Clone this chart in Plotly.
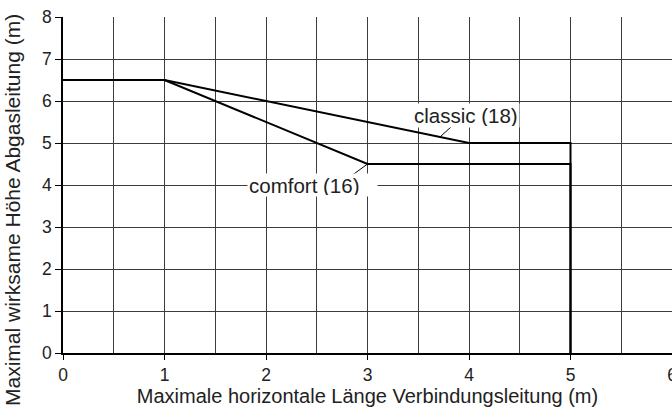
import plotly.graph_objects as go

# Maximum effective flue height vs. horizontal connection length
classic_x = [0, 1, 4, 5, 5]
classic_y = [6.5, 6.5, 5, 5, 0]
comfort_x = [0, 1, 3, 5, 5]
comfort_y = [6.5, 6.5, 4.5, 4.5, 0]

x_ticks = [0, 1, 2, 3, 4, 5, 6]
y_ticks = [0, 1, 2, 3, 4, 5, 6, 7, 8]

FONT = "Liberation Sans, Arial, sans-serif"
GRID = "#3c3c3c"
TEXT = "#222"

fig = go.Figure()
for xs, ys in [(comfort_x, comfort_y), (classic_x, classic_y)]:
    fig.add_trace(go.Scatter(x=xs, y=ys, mode="lines",
                             line=dict(color="black", width=2),
                             showlegend=False, hoverinfo="skip"))

# leader lines: anchored on a curve point, with a short pixel-sized stroke
lead_cls_x = 3.714
lead_cls_y = classic_y[1] + (classic_y[2] - classic_y[1]) * (lead_cls_x - 1) / 3
leaders = [
    dict(type="line", xref="x", yref="y", xsizemode="pixel", ysizemode="pixel",
         xanchor=lead_cls_x, yanchor=lead_cls_y, x0=0, y0=0, x1=11, y1=10,
         line=dict(color="black", width=1)),
    dict(type="line", xref="x", yref="y", xsizemode="pixel", ysizemode="pixel",
         xanchor=comfort_x[2], yanchor=comfort_y[2], x0=0, y0=0, x1=-15, y1=-11,
         line=dict(color="black", width=1)),
]

annotations = [
    dict(x=3.970, y=5.655, xref="x", yref="y", text="classic (18)",
         showarrow=False, bgcolor="white", borderpad=1, height=21,
         font=dict(family=FONT, size=20.5, color=TEXT)),
    dict(x=2.458, y=4.0, xref="x", yref="y", text="comfort (16)",
         showarrow=False, bgcolor="white", borderpad=1, width=127, height=20,
         align="left", font=dict(family=FONT, size=20.5, color=TEXT)),
    dict(x=(12 - 63) / 609, y=(353 - 210) / 336, xref="paper", yref="paper",
         text="Maximal wirksame Höhe Abgasleitung (m)", textangle=-90,
         showarrow=False, xanchor="center", yanchor="middle",
         font=dict(family=FONT, size=21, color=TEXT)),
]

fig.update_layout(
    width=672, height=412,
    margin=dict(l=63, r=0, t=17, b=59, autoexpand=False),
    paper_bgcolor="white", plot_bgcolor="white",
    font=dict(family=FONT, color=TEXT),
    annotations=annotations,
    shapes=leaders,
    xaxis=dict(
        range=[0, 6], tickvals=x_ticks, ticktext=[str(v) for v in x_ticks],
        showgrid=True, gridcolor=GRID, gridwidth=1,
        minor=dict(dtick=0.5, showgrid=True, gridcolor=GRID, gridwidth=1),
        ticks="outside", ticklen=5, tickcolor="black", tickwidth=1,
        showline=True, linecolor="black", linewidth=1.5,
        zeroline=False, tickfont=dict(size=17.5, color=TEXT),
        ticklabeloverflow="allow", automargin=False,
        title=dict(text="Maximale horizontale Länge Verbindungsleitung (m)",
                   font=dict(size=20, color=TEXT), standoff=2),
        fixedrange=True,
    ),
    yaxis=dict(
        range=[0, 8], tickvals=y_ticks, ticktext=[str(v) for v in y_ticks],
        showgrid=True, gridcolor=GRID, gridwidth=1,
        ticks="outside", ticklen=6, tickcolor="black", tickwidth=1,
        showline=True, linecolor="black", linewidth=1.5,
        zeroline=False, tickfont=dict(size=17.5, color=TEXT),
        automargin=False,
        fixedrange=True,
    ),
)

fig.write_html("out.html")
